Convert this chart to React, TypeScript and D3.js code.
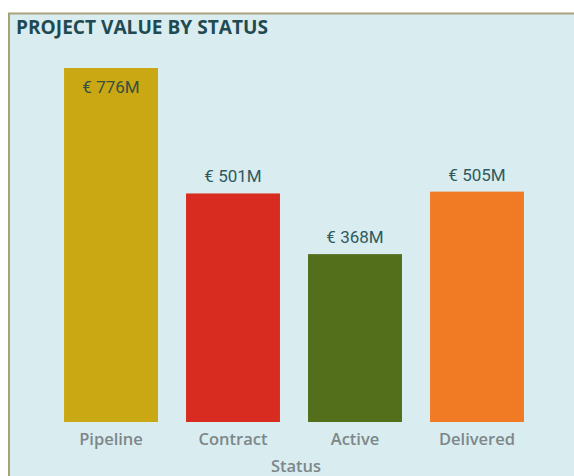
import React from "react";
import * as d3 from "d3";

const categories = ["Pipeline", "Contract", "Active", "Delivered"];
const values = [776, 501, 368, 505];
const colors = ["#caa814", "#d92c20", "#536f1b", "#f17a24"];
const title = "PROJECT VALUE BY STATUS";
const xTitle = "Status";

export default function App() {
  const W = 574, H = 476;
  const x = d3.scaleBand<string>().domain(categories).range([50, 538]).paddingInner(0.23).paddingOuter(0.115);
  const y = d3.scaleLinear().domain([0, 776]).range([422, 68]);
  const fmt = (v: number) => `€ ${d3.format("d")(v)}M`;
  return (
    <svg width={W} height={H} style={{ position: "absolute", left: 0, top: 0 }}>
      <rect x={0} y={0} width={W} height={H} fill="#ffffff" />
      <rect x={9} y={13.5} width={W} height={H} fill="#d9ecef" stroke="#a8a27a" strokeWidth={2} />
      <text x={16} y={34} fontFamily="Open Sans" fontWeight={700} fontSize={19} fill="#1f4a52" textLength={252} lengthAdjust="spacingAndGlyphs">{title}</text>
      {categories.map((c, i) => {
        const bx = x(c)!;
        const by = y(values[i]);
        const inside = y(values[i]) < 110;
        return (
          <g key={c}>
            <rect x={bx} y={by} width={x.bandwidth()} height={y(0) - by} fill={colors[i]} />
            <text x={bx + x.bandwidth() / 2} y={inside ? by + 25 : by - 11} textAnchor="middle"
              fontFamily="Roboto" fontWeight={400} fontSize={17} fill={inside ? "#34503f" : "#2e5a60"}>{fmt(values[i])}</text>
            <text x={bx + x.bandwidth() / 2} y={445} textAnchor="middle" fontFamily="Open Sans" fontWeight={600}
              fontSize={16.5} fill="#7d878a">{c}</text>
          </g>
        );
      })}
      <text x={(x.range()[0] + x.range()[1]) / 2 + 2} y={472} textAnchor="middle" fontFamily="Open Sans" fontWeight={600}
        fontSize={16.5} fill="#7d878a">{xTitle}</text>
    </svg>
  );
}
